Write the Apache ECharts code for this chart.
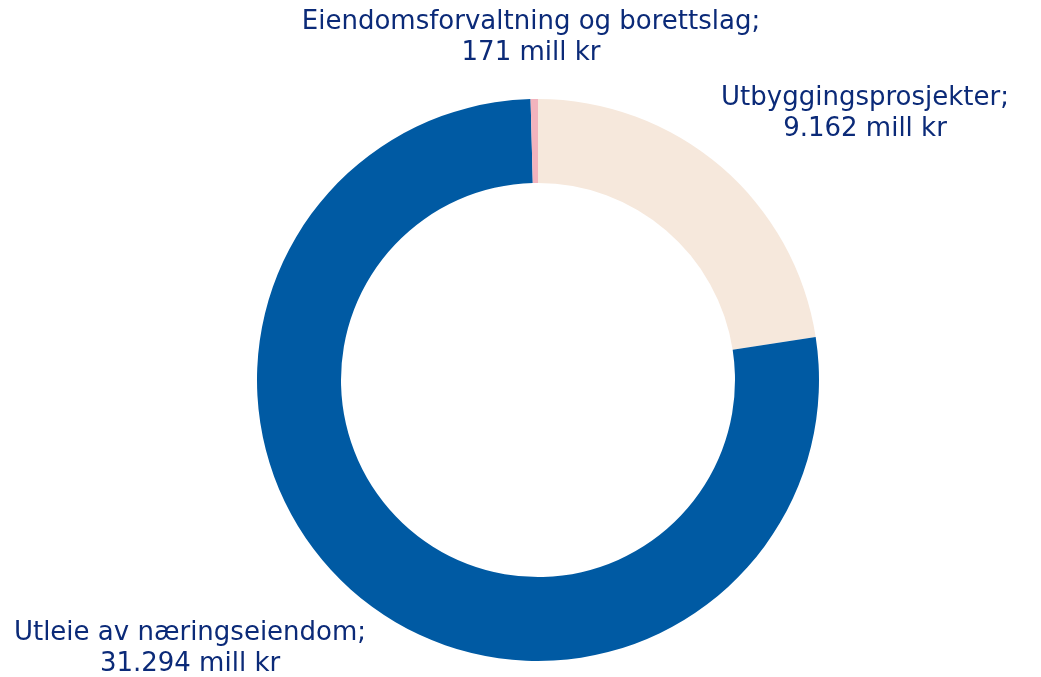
<!DOCTYPE html>
<html>
<head>
<meta charset="utf-8">
<script src="https://cdn.jsdelivr.net/npm/echarts@6/dist/echarts.min.js"></script>
<style>
  html, body { margin: 0; padding: 0; background: #ffffff; }
  #chart { width: 1041px; height: 677px; }
</style>
</head>
<body>
<div id="chart"></div>
<script>
// Omsetning per forretningsområde (mill kr)
const categories = ['Utbyggingsprosjekter', 'Utleie av næringseiendom', 'Eiendomsforvaltning og borettslag'];
const values = [9162, 31294, 171];
const colors = ['#f6e8dc', '#005aa3', '#f2b3bd'];

// Label anchor points (block centres) for each slice
const labelAnchors = [
  { x: 865, y: 114 },
  { x: 190, y: 649 },
  { x: 531, y: 38 }
];

function fmt(n) {
  return String(n).replace(/\B(?=(\d{3})+(?!\d))/g, '.');
}

const chart = echarts.init(document.getElementById('chart'), null, { renderer: 'canvas' });
chart.setOption({
  animation: false,
  backgroundColor: '#ffffff',
  series: [{
    type: 'pie',
    center: [538, 380],
    radius: [197, 281],
    startAngle: 90,
    clockwise: true,
    avoidLabelOverlap: false,
    itemStyle: { borderWidth: 0 },
    emphasis: { disabled: true },
    label: {
      show: true,
      position: 'outside',
      formatter: p => p.name + ';\n' + fmt(p.value) + ' mill kr',
      color: '#0b2a78',
      fontFamily: '"DejaVu Sans", sans-serif',
      fontSize: 26,
      lineHeight: 31,
      align: 'center'
    },
    labelLine: { show: false },
    labelLayout: p => ({
      x: labelAnchors[p.dataIndex].x,
      y: labelAnchors[p.dataIndex].y,
      align: 'center',
      verticalAlign: 'middle'
    }),
    data: categories.map((c, i) => ({
      name: c,
      value: values[i],
      itemStyle: { color: colors[i] }
    }))
  }]
});
</script>
</body>
</html>
